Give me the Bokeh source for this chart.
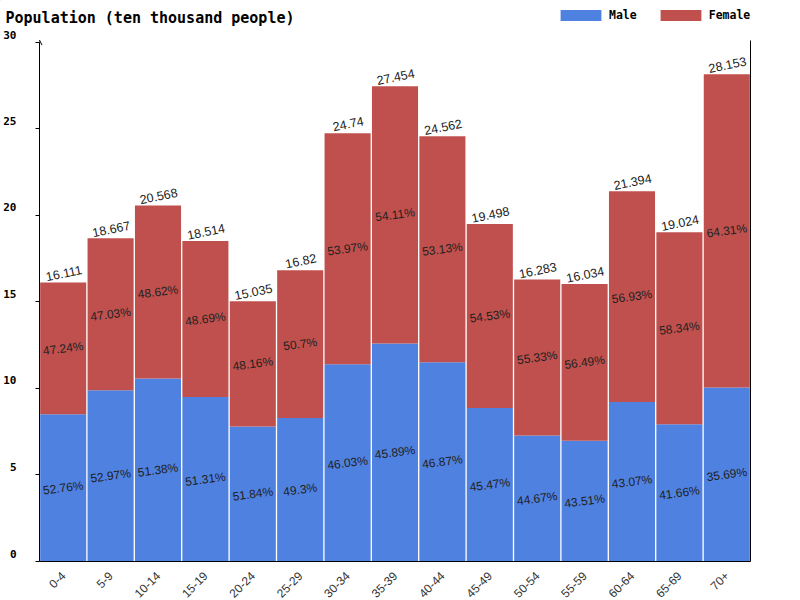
import math
from bokeh.plotting import figure
from bokeh.models import (Range1d, FixedTicker, LinearAxis, Legend, LegendItem,
                          Arrow, OpenHead, ColumnDataSource)
from bokeh.core.properties import value
from bokeh.embed import file_html
from bokeh.resources import INLINE

TITLE = "Population (ten thousand people)"
groups = ["0-4", "5-9", "10-14", "15-19", "20-24", "25-29", "30-34", "35-39",
          "40-44", "45-49", "50-54", "55-59", "60-64", "65-69", "70+"]
totals = [16.111, 18.667, 20.568, 18.514, 15.035, 16.82, 24.74, 27.454,
          24.562, 19.498, 16.283, 16.034, 21.394, 19.024, 28.153]
male_pct = [52.76, 52.97, 51.38, 51.31, 51.84, 49.3, 46.03, 45.89,
            46.87, 45.47, 44.67, 43.51, 43.07, 41.66, 35.69]
female_pct = [47.24, 47.03, 48.62, 48.69, 48.16, 50.7, 53.97, 54.11,
              53.13, 54.53, 55.33, 56.49, 56.93, 58.34, 64.31]
y_ticks = [0, 5, 10, 15, 20, 25, 30]

MALE_C = "#4f81e0"
FEMALE_C = "#c0504d"
MONO = "DejaVu Sans Mono"
SANS = "Liberation Sans"

xs = [i + 0.5 for i in range(len(groups))]
male = [t * m / 100.0 for t, m in zip(totals, male_pct)]

src = ColumnDataSource(dict(
    x=xs, total=totals, male=male,
    male_mid=[m / 2.0 for m in male],
    female_mid=[(m + t) / 2.0 for m, t in zip(male, totals)],
    total_txt=[("%g" % t) for t in totals],
    male_txt=["%g%%" % v for v in male_pct],
    female_txt=["%g%%" % v for v in female_pct],
))

# ---------- header (title + legend), its own root ----------
h = figure(width=800, height=30, x_range=Range1d(0, 800), y_range=Range1d(30, 0),
           output_backend="svg", toolbar_location=None,
           x_axis_location=None, y_axis_location=None, min_border=0)
h.grid.visible = False
h.outline_line_color = None
h.text(x=[5], y=[17.5], text=[TITLE], text_align="left", text_baseline="alphabetic",
       text_font=value(MONO), text_font_style="bold", text_font_size="15px",
       text_color="black")
# legend swatch renderers (their own bars lie outside the header's visible range)
dm = h.vbar(x=[-100], bottom=[-100], top=[-99], width=1, fill_color=MALE_C, line_color=None)
df = h.vbar(x=[-100], bottom=[-100], top=[-99], width=1, fill_color=FEMALE_C, line_color=None)
legend = Legend(items=[LegendItem(label="Male", renderers=[dm]),
                       LegendItem(label="Female", renderers=[df])],
                orientation="horizontal", location=(555, 7.6),
                glyph_width=51, glyph_height=14, label_height=11, label_standoff=3,
                spacing=18, padding=0, margin=0, border_line_color=None,
                background_fill_alpha=0,
                label_text_font=MONO, label_text_font_style="bold",
                label_text_font_size="11.5px", label_text_color="black",
                label_text_baseline="alphabetic")
h.add_layout(legend, "center")

# ---------- main chart ----------
p = figure(frame_width=711, frame_height=528, x_range=Range1d(0, 15), y_range=Range1d(0, 30.5),
           output_backend="svg", toolbar_location=None,
           min_border_left=39, min_border_right=50, min_border_top=3, min_border_bottom=39)
p.grid.visible = False
p.outline_line_color = None

rm = p.vbar(x="x", width=0.972, bottom=0, top="male", source=src,
            fill_color=MALE_C, line_color=None)
rf = p.vbar(x="x", width=0.972, bottom="male", top="total", source=src,
            fill_color=FEMALE_C, line_color=None)

# x axis
p.xaxis.ticker = FixedTicker(ticks=xs)
p.xaxis.major_label_overrides = {x: g for x, g in zip(xs, groups)}
p.xaxis.major_label_orientation = math.pi / 4
p.xaxis.major_tick_line_color = None
p.xaxis.major_tick_out = 0
p.xaxis.major_tick_in = 0
p.xaxis.minor_tick_line_color = None
p.xaxis.major_label_standoff = 12
p.xaxis.major_label_text_font = SANS
p.xaxis.major_label_text_font_size = "12px"
p.xaxis.major_label_text_color = "#333333"
p.xaxis.axis_line_color = "black"

# y axis: tick marks
ya = p.yaxis[0]
ya.ticker = FixedTicker(ticks=y_ticks)
ya.bounds = (0, 30)
ya.major_tick_out = 4
ya.major_tick_in = 0
ya.minor_tick_line_color = None
ya.major_label_overrides = {v: "" for v in y_ticks}
ya.major_label_text_color = None
ya.major_label_standoff = 0
ya.axis_line_color = "black"
ya.major_tick_line_color = "black"

# y axis: labels (drawn slightly above their ticks, as in the reference)
lab_pos = [round(v + 0.462, 3) for v in y_ticks]
yb = LinearAxis(ticker=FixedTicker(ticks=lab_pos),
                major_label_overrides={pp: str(v) for pp, v in zip(lab_pos, y_ticks)},
                axis_line_color=None, major_tick_line_color=None, minor_tick_line_color=None,
                major_tick_out=0, major_tick_in=0, major_label_standoff=19,
                major_label_text_font=MONO, major_label_text_font_style="bold",
                major_label_text_font_size="11px", major_label_text_color="black")
p.add_layout(yb, "left")

ra = LinearAxis(ticker=FixedTicker(ticks=[]), bounds=(0, 30.1),
                major_tick_line_color=None, minor_tick_line_color=None,
                axis_line_color="black")
p.add_layout(ra, "right")

p.add_layout(Arrow(end=OpenHead(size=5, line_width=1, line_color="black"),
                   x_start=0, y_start=29.6, x_end=0, y_end=30.12,
                   line_color="black", line_width=1))

# bar texts
p.text(x="x", y="total", text="total_txt", source=src, x_offset=1.5, y_offset=-5, angle=0.2,
       text_align="center", text_baseline="bottom",
       text_font=value(SANS), text_font_size="12.5px", text_color="#222222")
p.text(x="x", y="male_mid", text="male_txt", source=src, angle=0.13,
       text_align="center", text_baseline="middle",
       text_font=value(SANS), text_font_size="12px", text_color="#222222")
p.text(x="x", y="female_mid", text="female_txt", source=src, angle=0.13,
       text_align="center", text_baseline="middle",
       text_font=value(SANS), text_font_size="12px", text_color="#222222")

html = file_html([h, p], INLINE)
html = html.replace("<head>", "<head><style>html,body{overflow:hidden;}</style>", 1)
open("out.html", "w").write(html)
